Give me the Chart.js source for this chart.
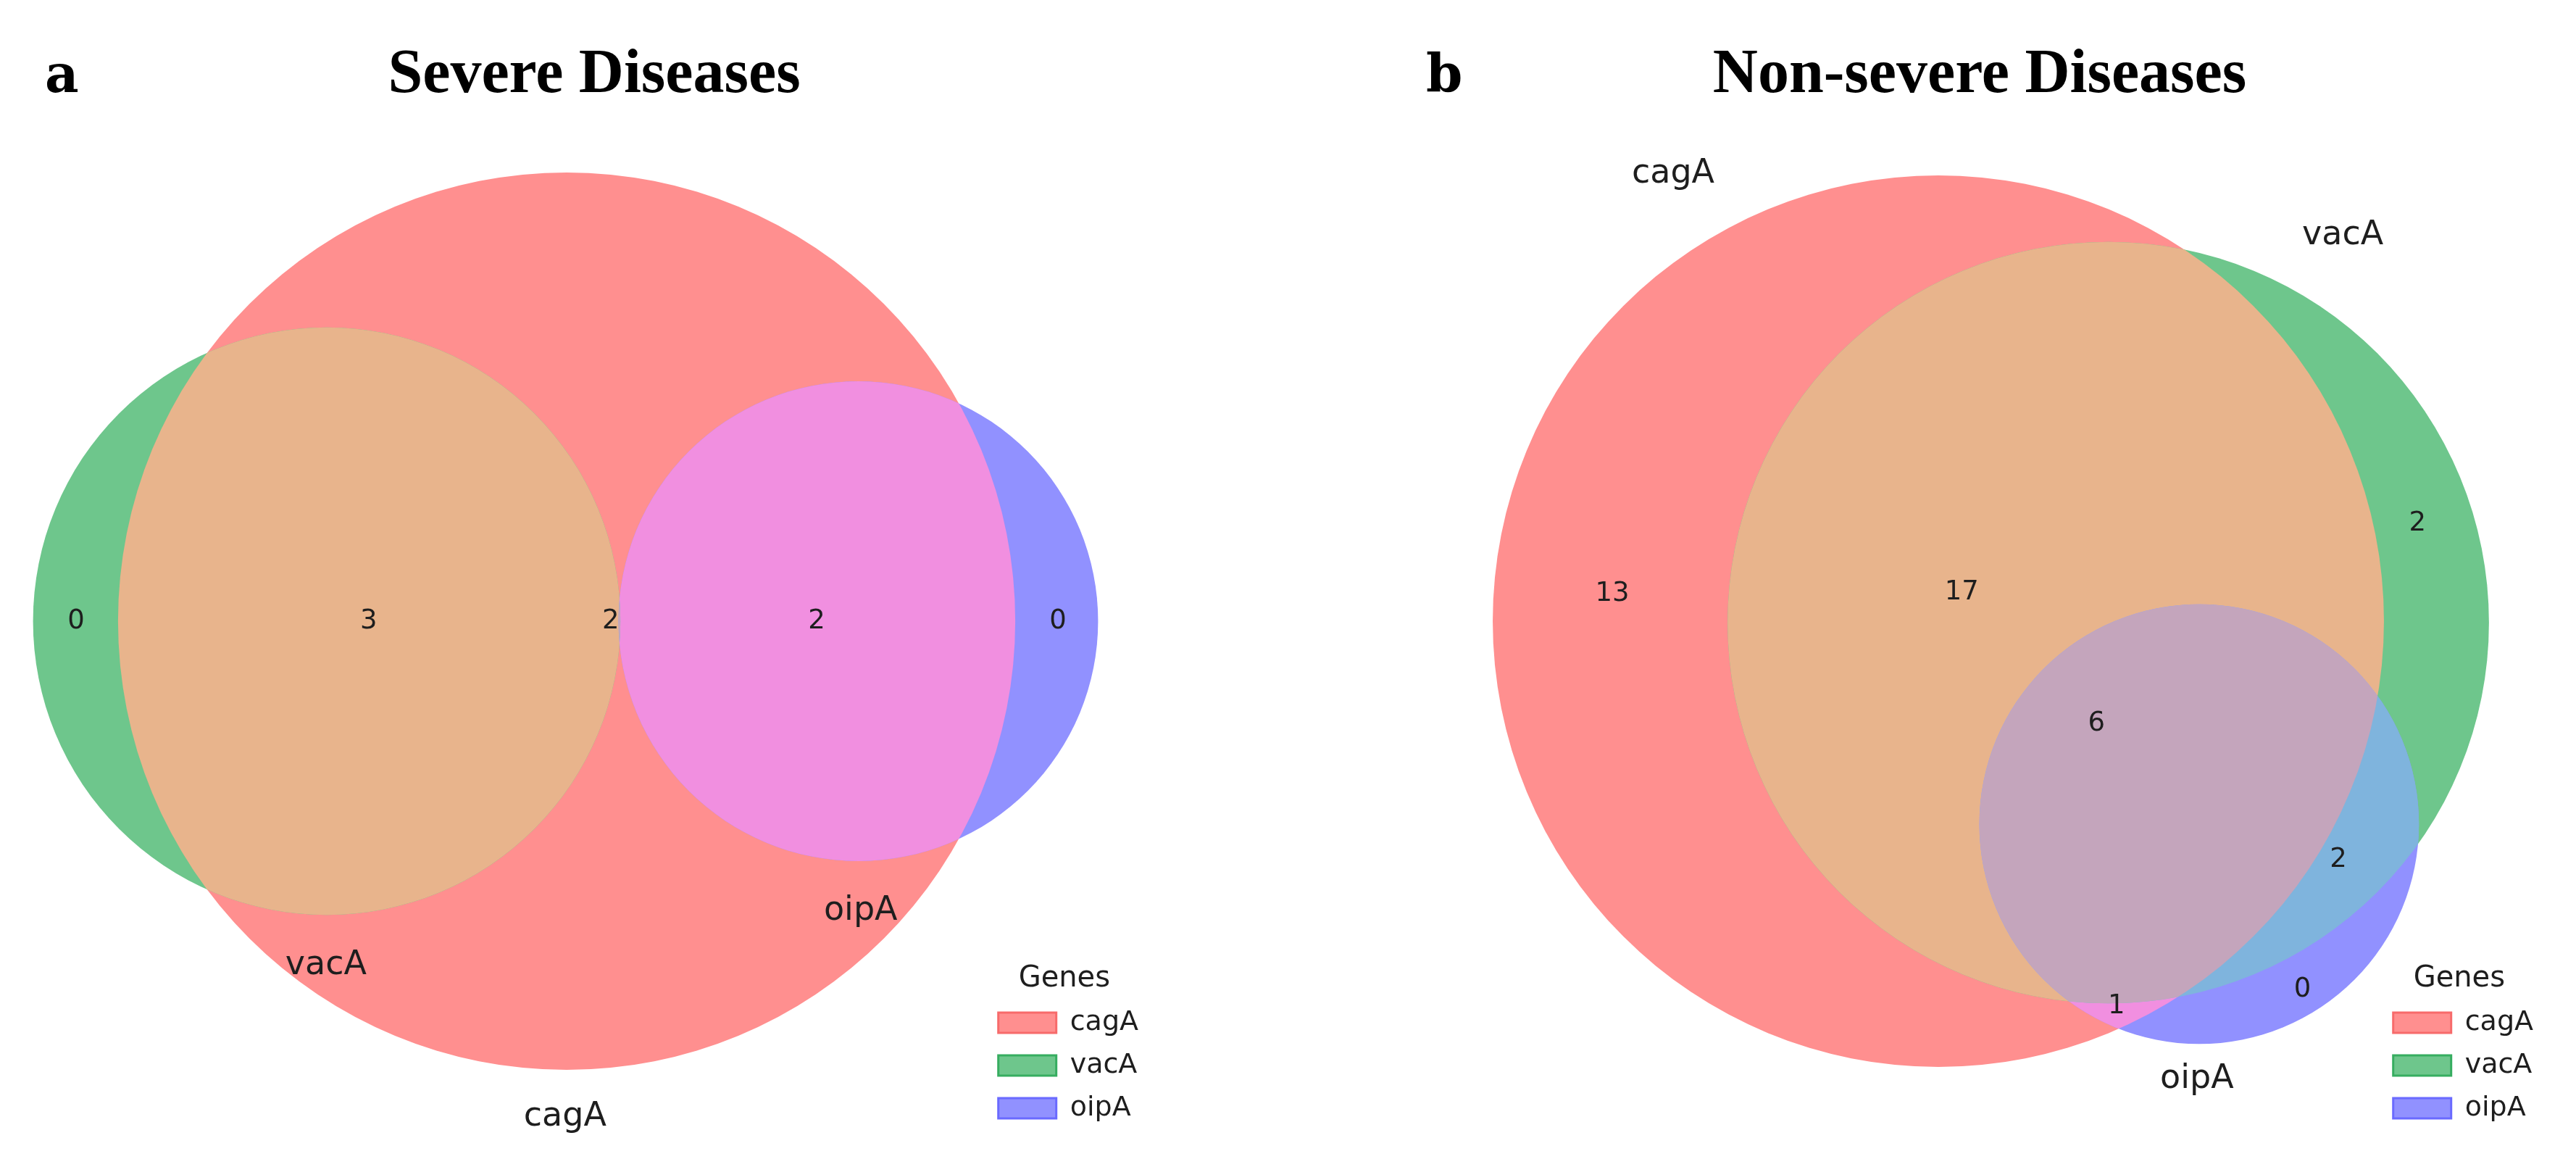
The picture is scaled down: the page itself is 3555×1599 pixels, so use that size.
<!DOCTYPE html>
<html>
<head>
<meta charset="utf-8">
<script src="https://cdn.jsdelivr.net/npm/chart.js@4.4.1/dist/chart.umd.min.js"></script>
<style>
    body { margin: 0; background: #fff; width: 3555px; height: 1599px; position: relative; overflow: hidden; }
    canvas { position: absolute; top: 0; }
    .tag { position: absolute; font: bold 72px "DejaVu Serif"; line-height: 72px; color: #000; }
    .title { position: absolute; font: bold 86px "Liberation Serif"; line-height: 86px; color: #000;
             transform: translateX(-50%); white-space: nowrap; }
</style>
</head>
<body>
<canvas id="chartSevere" width="1777" height="1599" style="left:0"></canvas>
<canvas id="chartNonSevere" width="1778" height="1599" style="left:1777px"></canvas>
<div class="tag" style="left:62px;top:66px">a</div>
<div class="title" style="left:820px;top:55px">Severe Diseases</div>
<div class="tag" style="left:1968px;top:66px">b</div>
<div class="title" style="left:2732px;top:55px">Non-severe Diseases</div>

<script>
// genes and venn regions (membership flags in gene order: cagA, vacA, oipA)
const genes = ['cagA', 'vacA', 'oipA'];
const regions = ['100', '010', '001', '110', '101', '011', '111'];

// a - severe diseases
const severeCounts = [2, 0, 0, 3, 2, 0, 0];
const severeCenterX = [0, -1.415, 1.72];
const severeCenterY = [0, 0, 0];
const severeLabelX = [0.26, -2.893, 2.897, -1.168, 1.474, null, null];
const severeLabelY = [0, 0, 0, 0, 0, null, null];
const severeNameX = [-0.009, -1.419, 1.734];
const severeNameY = [-2.923, -2.028, -1.709];

// b - non-severe diseases
const nonSevereCounts = [13, 2, 0, 17, 1, 2, 6];
const nonSevereCenterX = [0, 2.32, 3.56];
const nonSevereCenterY = [0, -0.02, -2.77];
const nonSevereLabelX = [-4.45, 6.54, 4.97, 0.32, 2.43, 5.46, 2.16];
const nonSevereLabelY = [0.37, 1.33, -5.03, 0.39, -5.26, -3.26, -1.40];
const nonSevereNameX = [-3.62, 5.52, 3.53];
const nonSevereNameY = [6.10, 5.26, -6.25];

const baseColors = ['#FF8F8F', '#6EC68C', '#9191FF'];
const edgeColors = ['#F76B6B', '#36AD60', '#6A6AFF'];
const overlapColors = { '110': '#E8B48C', '101': '#F18FE0', '011': '#7FB4DD', '111': '#C4A5BC' };
const textColor = '#1e1e1e';

Chart.defaults.font.family = '"DejaVu Sans"';

// set size = sum of all regions containing that gene; circle area follows it
function setRadii(counts) {
    return genes.map((g, i) =>
        Math.sqrt(regions.reduce((s, r, k) => s + (r[i] === '1' ? counts[k] : 0), 0)));
}

// length in venn units turned into pixels through the x scale
function unitPx(chart, u) {
    const s = chart.scales.x;
    return Math.abs(s.getPixelForValue(u) - s.getPixelForValue(0));
}

function buildDatasets(cx, cy) {
    const sets = [];
    genes.forEach((g, i) => {
        sets.push({
            label: g,
            data: [{ x: cx[i], y: cy[i] }],
            backgroundColor: baseColors[i],
            circle: i,
            borderWidth: 0,
            clip: false
        });
    });
    // overlaps: draw the last member circle, clipped by the other members
    regions.filter(r => r.split('1').length > 2).forEach(r => {
        const members = [0, 1, 2].filter(i => r[i] === '1');
        const top = members[members.length - 1];
        sets.push({
            label: r,
            data: [{ x: cx[top], y: cy[top] }],
            backgroundColor: overlapColors[r],
            circle: top,
            borderWidth: 0,
            clip: false,
            clipTo: members.slice(0, -1)
        });
    });
    // first dataset drawn first
    sets.forEach((d, k) => d.order = 20 - k);
    return sets;
}

const regionClip = {
    id: 'regionClip',
    beforeDatasetDraw(chart, args) {
        const ds = chart.data.datasets[args.index];
        if (!ds.clipTo) return;
        const ctx = chart.ctx;
        ctx.save();
        ds.clipTo.forEach(j => {
            const el = chart.getDatasetMeta(j).data[0];
            ctx.beginPath();
            ctx.arc(el.x, el.y, el.options.radius, 0, Math.PI * 2);
            ctx.clip();
        });
    },
    afterDatasetDraw(chart, args) {
        if (chart.data.datasets[args.index].clipTo) chart.ctx.restore();
    }
};

function vennText(counts, lx, ly, nx, ny) {
    return {
        id: 'vennText',
        afterDatasetsDraw(chart) {
            const { ctx, scales: { x, y } } = chart;
            ctx.save();
            ctx.fillStyle = textColor;
            ctx.textAlign = 'center';
            ctx.textBaseline = 'middle';
            ctx.font = '37px "DejaVu Sans"';
            counts.forEach((c, k) => {
                if (lx[k] === null) return;
                ctx.fillText(String(c), x.getPixelForValue(lx[k]), y.getPixelForValue(ly[k]));
            });
            ctx.font = '46px "DejaVu Sans"';
            genes.forEach((g, i) => {
                ctx.fillText(g, x.getPixelForValue(nx[i]), y.getPixelForValue(ny[i]));
            });
            ctx.restore();
        }
    };
}

function makeVenn(canvasId, counts, cx, cy, lx, ly, nx, ny, padRight) {
    return new Chart(document.getElementById(canvasId), {
        type: 'bubble',
        data: { datasets: buildDatasets(cx, cy) },
        options: {
            responsive: false,
            animation: false,
            events: [],
            layout: { autoPadding: false, padding: { left: 0, top: 0, right: padRight, bottom: 30 } },
            scales: {
                x: { type: 'linear', display: false, bounds: 'data', min: -10, max: 10 },
                y: { type: 'linear', display: false, bounds: 'data', min: -10, max: 10 }
            },
            plugins: {
                tooltip: { enabled: false },
                legend: {
                    position: 'right',
                    align: 'end',
                    title: {
                        display: true, text: 'Genes', color: textColor, padding: 0,
                        font: { size: 40, lineHeight: 1 }
                    },
                    labels: {
                        boxWidth: 80, boxHeight: 28, padding: 21, color: textColor,
                        font: { size: 38 },
                        filter: item => item.datasetIndex < genes.length,
                        sort: (a, b) => a.datasetIndex - b.datasetIndex,
                        generateLabels: chart => Chart.defaults.plugins.legend.labels.generateLabels(chart)
                            .map(it => Object.assign(it, { strokeStyle: edgeColors[it.datasetIndex], lineWidth: 3 }))
                    }
                }
            }
        },
        plugins: [regionClip, vennText(counts, lx, ly, nx, ny)]
    });
}

// put the venn origin at a pixel spot with a fixed pixels-per-unit on both axes,
// then give each circle its bubble size (from the set size) through the fitted scale
function fitVenn(chart, counts, originX, originY, ppu) {
    const a = chart.chartArea;
    chart.options.scales.x.min = (a.left - originX) / ppu;
    chart.options.scales.x.max = (a.right - originX) / ppu;
    chart.options.scales.y.min = (originY - a.bottom) / ppu;
    chart.options.scales.y.max = (originY - a.top) / ppu;
    chart.update('none');
    const radii = setRadii(counts);
    chart.data.datasets.forEach(ds => {
        ds.data = ds.data.map(p => ({ x: p.x, y: p.y, r: unitPx(chart, radii[ds.circle]) }));
    });
    chart.update('none');
}

const severeChart = makeVenn('chartSevere', severeCounts, severeCenterX, severeCenterY,
    severeLabelX, severeLabelY, severeNameX, severeNameY, 196);
fitVenn(severeChart, severeCounts, 782, 857, 234.0);

const nonSevereChart = makeVenn('chartNonSevere', nonSevereCounts, nonSevereCenterX, nonSevereCenterY,
    nonSevereLabelX, nonSevereLabelY, nonSevereNameX, nonSevereNameY, 49);
fitVenn(nonSevereChart, nonSevereCounts, 898, 857, 101.1);
</script>
</body>
</html>
